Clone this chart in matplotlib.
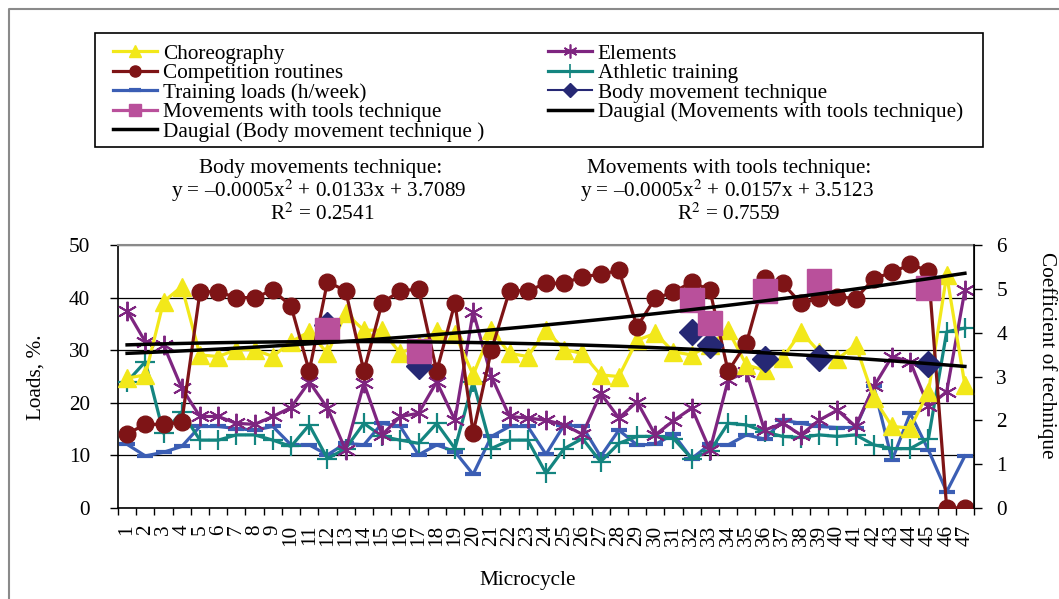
import numpy as np
import matplotlib
matplotlib.use("Agg")
import matplotlib.pyplot as plt
from matplotlib.lines import Line2D
from matplotlib.patches import Rectangle

plt.rcParams["font.family"] = ["Liberation Serif", "DejaVu Serif"]
plt.rcParams["mathtext.fontset"] = "stix"

microcycle = list(range(1, 48))

choreography = [24.7, 25.3, 39.2, 42.1, 29.1, 28.8, 30.1, 30.1, 28.8, 31.6,
                33.5, 29.4, 37.0, 33.8, 33.8, 29.4, 31.0, 33.7, 33.1, 25.3,
                33.8, 29.4, 28.8, 33.8, 30.1, 29.4, 25.3, 25.0, 31.9, 33.2,
                29.7, 29.1, 31.0, 33.8, 27.2, 26.2, 28.5, 33.5, 29.7, 28.3,
                31.0, 20.9, 15.5, 15.2, 22.1, 44.3, 23.4]
competition = [14.1, 15.9, 15.9, 16.3, 41.1, 41.1, 40.0, 40.0, 41.4, 38.4,
               26.0, 43.0, 41.3, 26.0, 39.0, 41.3, 41.6, 26.0, 39.0, 14.3,
               30.0, 41.3, 41.3, 42.7, 42.7, 44.0, 44.4, 45.2, 34.5, 39.9,
               41.0, 43.0, 41.4, 26.0, 31.3, 43.7, 42.7, 38.9, 39.9, 40.2,
               39.8, 43.6, 44.8, 46.3, 45.1, 0.0, 0.0]
elements = [37.5, 31.6, 31.0, 22.8, 17.4, 17.4, 16.1, 15.9, 17.4, 19.1,
            24.0, 19.0, 11.0, 23.7, 13.9, 17.4, 18.0, 24.0, 16.7, 37.3,
            25.0, 17.4, 17.1, 16.7, 15.8, 14.0, 21.8, 17.1, 20.2, 13.9,
            16.6, 19.0, 11.0, 24.3, 25.9, 14.8, 16.1, 13.9, 16.7, 18.6,
            15.5, 23.1, 28.8, 27.8, 19.3, 22.1, 41.4]
athletic = [24.0, 27.8, 14.2, 18.3, 12.9, 12.9, 13.9, 13.9, 12.9, 11.7,
            15.8, 9.4, 11.3, 16.1, 13.6, 12.9, 12.3, 16.1, 11.3, 24.0,
            11.3, 12.9, 12.9, 6.6, 11.3, 13.2, 8.8, 12.3, 13.6, 13.6,
            13.2, 9.4, 10.8, 16.1, 15.8, 14.5, 13.6, 13.4, 13.9, 13.6,
            13.9, 12.0, 11.3, 11.3, 13.2, 33.5, 34.2]
training = [12.1, 9.9, 10.6, 11.7, 15.5, 15.5, 15.1, 14.8, 15.5, 12.0,
            12.0, 10.1, 12.3, 12.0, 16.1, 15.5, 10.1, 12.0, 10.7, 6.4,
            13.6, 15.5, 15.5, 10.2, 15.8, 15.5, 9.8, 14.8, 12.0, 12.1,
            14.0, 9.4, 12.1, 12.0, 13.9, 13.1, 16.7, 16.1, 15.5, 15.3,
            15.3, 23.1, 9.1, 18.0, 11.0, 3.1, 9.9]

# technique coefficients (right axis), only measured in some microcycles
tech_cycles = [12, 17, 32, 33, 36, 39, 45]
tools_tech = [4.05, 3.59, 4.75, 4.21, 4.96, 5.19, 5.03]
body_tech = [4.17, 3.23, 4.02, 3.72, 3.41, 3.43, 3.28]

# polynomial trendlines (the drawn tools curve rises, so its x^2 term is positive)
body_trend_coef = [-0.0005, 0.0133, 3.7089]
tools_trend_coef = [0.0005, 0.0157, 3.5123]

C_YEL = "#F2E81A"
C_RED = "#7E1416"
C_PUR = "#7E2580"
C_TEAL = "#148580"
C_BLUE = "#3B5EB4"
C_PINK = "#B9509B"
C_NAVY = "#262874"

FS = 15.3

fig = plt.figure(figsize=(10.59, 5.99), dpi=100)
ax = fig.add_axes([118 / 1059, 1 - 508 / 599, (974 - 118) / 1059, (508 - 245) / 599])
ax2 = ax.twinx()

lw = 2.3
ax.plot(microcycle, training, color=C_BLUE, lw=lw, marker="_", ms=11, mew=3, zorder=3)
ax.plot(microcycle, athletic, color=C_TEAL, lw=lw, marker="+", ms=14, mew=1.6, zorder=3)
ax.plot(microcycle, elements, color=C_PUR, lw=lw, marker=(6, 2, 0), ms=14, mew=1.4, zorder=4)
ax.plot(microcycle, choreography, color=C_YEL, lw=lw, marker="^", ms=13, zorder=5)
ax.plot(microcycle, competition, color=C_RED, lw=lw, marker="o", ms=12, zorder=6)

ax.set_xlim(0.5, 47.5)
ax.set_ylim(0, 50)
ax.set_yticks(range(0, 51, 10))
ax.yaxis.grid(True, color="black", lw=0.9)
ax.set_axisbelow(True)
ax.set_xticks(np.arange(0.5, 48, 1))
ax.set_xticklabels([])
ax.set_xticks(microcycle, minor=True)
ax.set_xticklabels([str(m) for m in microcycle], minor=True, rotation=90, fontsize=FS)
ax.tick_params(axis="x", which="major", direction="out", length=5, width=1)
ax.tick_params(axis="x", which="minor", length=0, pad=12)
ax.tick_params(axis="y", direction="out", length=6, width=1, labelsize=FS, pad=14)
ax.spines["top"].set_color("#8a8a8a")
ax.spines["top"].set_linewidth(1.5)
for s in ["left", "bottom"]:
    ax.spines[s].set_linewidth(1.2)

xs = np.array(microcycle)
ax2.plot(tech_cycles, body_tech, ls="none", marker="D", ms=13, color=C_NAVY, zorder=3)
ax2.plot(tech_cycles, tools_tech, ls="none", marker="s", ms=17, color=C_PINK, zorder=4)
ax2.plot(xs, np.polyval(body_trend_coef, xs), color="black", lw=2.5, zorder=5)
ax2.plot(xs, np.polyval(tools_trend_coef, xs), color="black", lw=2.5, zorder=5)
ax2.set_ylim(0, 6)
ax2.set_yticks(range(0, 7))
ax2.tick_params(axis="y", direction="out", length=6, width=1, labelsize=FS, pad=10)
ax2.spines["right"].set_linewidth(1.2)
ax2.spines["top"].set_visible(False)
ax2.spines["left"].set_visible(False)
ax2.spines["bottom"].set_visible(False)

fig.text(36 / 1059, 1 - 377 / 599, "Loads, %.", rotation=90, ha="center", va="center", fontsize=FS)
fig.text(1047 / 1059, 1 - 355 / 599, "Coefficient of technique", rotation=270,
         ha="center", va="center", fontsize=FS)
fig.text(528 / 1059, 1 - 580 / 599, "Microcycle", ha="center", va="center", fontsize=FS)

fig.text(321 / 1059, 1 - 168 / 599, "Body movements technique:", ha="center", va="center", fontsize=FS)
fig.text(319 / 1059, 1 - 191 / 599, "y = \u20130.0005x$^{2}$ + 0.0133x + 3.7089",
         ha="center", va="center", fontsize=FS)
fig.text(322 / 1059, 1 - 214 / 599, "R$^{2}$ = 0.2541", ha="center", va="center", fontsize=FS)
fig.text(729 / 1059, 1 - 168 / 599, "Movements with tools technique:", ha="center", va="center", fontsize=FS)
fig.text(727 / 1059, 1 - 191 / 599, "y = \u20130.0005x$^{2}$ + 0.0157x + 3.5123",
         ha="center", va="center", fontsize=FS)
fig.text(729 / 1059, 1 - 214 / 599, "R$^{2}$ = 0.7559", ha="center", va="center", fontsize=FS)

# legend frame and outer chart border
fig.patches.append(Rectangle((95 / 1059, 1 - 147 / 599), (983 - 95) / 1059, (147 - 33) / 599,
                             transform=fig.transFigure, fill=False, edgecolor="black", lw=1.2))
fig.lines.append(Line2D([9 / 1059, 9 / 1059, 1.0], [0.0, 1 - 9 / 599, 1 - 9 / 599],
                        transform=fig.transFigure, color="#8a8a8a", lw=1.5))

h = [
    Line2D([], [], color=C_YEL, lw=lw, marker="^", ms=9),
    Line2D([], [], color=C_RED, lw=lw, marker="o", ms=8),
    Line2D([], [], color=C_BLUE, lw=lw, marker="_", ms=8, mew=3),
    Line2D([], [], color=C_PINK, lw=lw, marker="s", ms=8),
    Line2D([], [], color="black", lw=2.5),
    Line2D([], [], color=C_PUR, lw=lw, marker=(6, 2, 0), ms=10, mew=1.2),
    Line2D([], [], color=C_TEAL, lw=lw, marker="+", ms=10, mew=1.2),
    Line2D([], [], color=C_NAVY, lw=1.5, marker="D", ms=7),
    Line2D([], [], color="black", lw=2.5),
]
labels = ["Choreography", "Competition routines", "Training loads (h/week)",
          "Movements with tools technique", "Daugial (Body movement technique )",
          "Elements", "Athletic training", "Body movement technique",
          "Daugial (Movements with tools technique)"]
fig.legend(h, labels, ncol=2, loc="upper left", bbox_to_anchor=(113 / 1059, 1 - 44 / 599),
           frameon=False, fontsize=FS, labelspacing=-0.02, handlelength=2.05,
           handletextpad=0.3, columnspacing=3.0, borderaxespad=0, borderpad=0)

fig.savefig("out.png", dpi=100)
